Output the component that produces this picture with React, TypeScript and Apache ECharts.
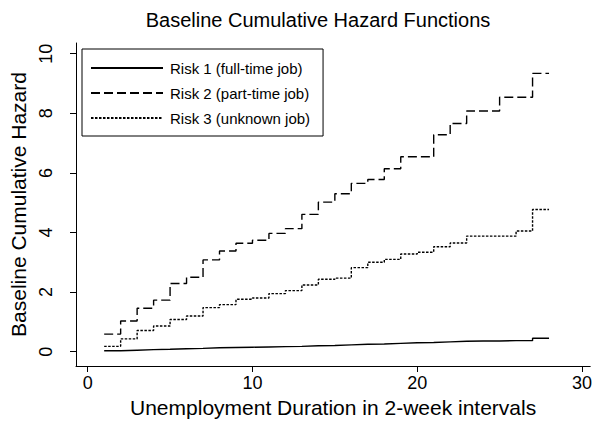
import React, { useEffect, useRef } from "react";
import * as echarts from "echarts";

const durations = [1, 2, 3, 4, 5, 6, 7, 8, 9, 10, 11, 12, 13, 14, 15, 16, 17, 18, 19, 20, 21, 22, 23, 24, 25, 26, 27, 28];
const risk1 = [0.03, 0.05, 0.07, 0.08, 0.10, 0.11, 0.13, 0.14, 0.15, 0.16, 0.17, 0.18, 0.20, 0.21, 0.23, 0.25, 0.26, 0.28, 0.30, 0.31, 0.33, 0.35, 0.36, 0.36, 0.37, 0.37, 0.45, 0.45];
const risk2 = [0.59, 1.03, 1.46, 1.73, 2.29, 2.50, 3.08, 3.38, 3.64, 3.74, 3.97, 4.13, 4.61, 5.02, 5.30, 5.65, 5.78, 6.14, 6.54, 6.54, 7.28, 7.66, 8.08, 8.08, 8.54, 8.54, 9.34, 9.34];
const risk3 = [0.18, 0.43, 0.71, 0.86, 1.08, 1.20, 1.48, 1.58, 1.76, 1.80, 1.95, 2.05, 2.24, 2.43, 2.47, 2.82, 3.00, 3.10, 3.28, 3.34, 3.52, 3.65, 3.88, 3.88, 3.88, 4.05, 4.77, 4.77];
const seriesNames = ["Risk 1 (full-time job)", "Risk 2 (part-time job)", "Risk 3 (unknown job)"];
const xTicks = [0, 10, 20, 30];
const yTicks = [0, 2, 4, 6, 8, 10];

const FONT = "Liberation Sans, Arial, Helvetica, sans-serif";

export default function App() {
  const ref = useRef<HTMLDivElement>(null);
  useEffect(() => {
    if (!ref.current) return;
    const chart = echarts.init(ref.current, null, { renderer: "svg" });
    const mk = (vals: number[]) => durations.map((t, i) => [t, vals[i]]);
    const styles: any[] = ["solid", [9, 4], [2.5, 1.5]];
    const datas = [risk1, risk2, risk3];
    chart.setOption({
      animation: false,
      backgroundColor: "#ffffff",
      textStyle: { fontFamily: FONT, color: "#000" },
      graphic: [
        {
          type: "text",
          x: 318,
          y: 20,
          style: {
            text: "Baseline Cumulative Hazard Functions",
            font: `20px ${FONT}`,
            fill: "#000",
            textAlign: "center",
            textVerticalAlign: "middle",
          },
        },
      ],
      legend: {
        orient: "vertical",
        left: 82,
        top: 49,
        data: seriesNames,
        borderColor: "#000",
        borderWidth: 1,
        borderRadius: 0,
        padding: [11, 13, 10, 8],
        itemGap: 9,
        itemWidth: 72,
        itemHeight: 14,
        itemStyle: { opacity: 0 },
        textStyle: { fontSize: 15, lineHeight: 16, color: "#000", fontFamily: FONT, padding: [0, 0, 0, 2] },
      },
      grid: { left: 76, right: 2, top: 43, bottom: 58, containLabel: false },
      xAxis: {
        type: "value",
        min: -0.71,
        max: 30.5,
        name: "Unemployment Duration in 2-week intervals",
        nameLocation: "middle",
        nameGap: 29,
        nameTextStyle: { fontSize: 21, color: "#000", fontFamily: FONT },
        axisLine: { show: true, onZero: false, lineStyle: { color: "#000", width: 1 } },
        axisTick: { show: true, length: 6, lineStyle: { color: "#000" }, customValues: xTicks },
        axisLabel: { fontSize: 18, color: "#000", margin: 8, customValues: xTicks, fontFamily: FONT },
        splitLine: { show: false },
      },
      yAxis: {
        type: "value",
        min: -0.48,
        max: 10.36,
        name: "Baseline Cumulative Hazard",
        nameLocation: "middle",
        nameGap: 44,
        nameTextStyle: { fontSize: 21, color: "#000", fontFamily: FONT },
        axisLine: { show: true, onZero: false, lineStyle: { color: "#000", width: 1 } },
        axisTick: { show: true, length: 6, lineStyle: { color: "#000" }, customValues: yTicks },
        axisLabel: { fontSize: 18, color: "#000", margin: 21, rotate: 90, customValues: yTicks, fontFamily: FONT },
        splitLine: { show: false },
      },
      series: seriesNames.map((name, i) => ({
        name,
        type: "line",
        step: "end",
        symbol: "none",
        data: mk(datas[i]),
        lineStyle: { color: "#000", width: 1.4, type: styles[i] },
        itemStyle: { color: "#000" },
      })),
    });
    return () => chart.dispose();
  }, []);
  return <div ref={ref} style={{ position: "fixed", left: 0, top: 0, width: 595, height: 424 }} />;
}
